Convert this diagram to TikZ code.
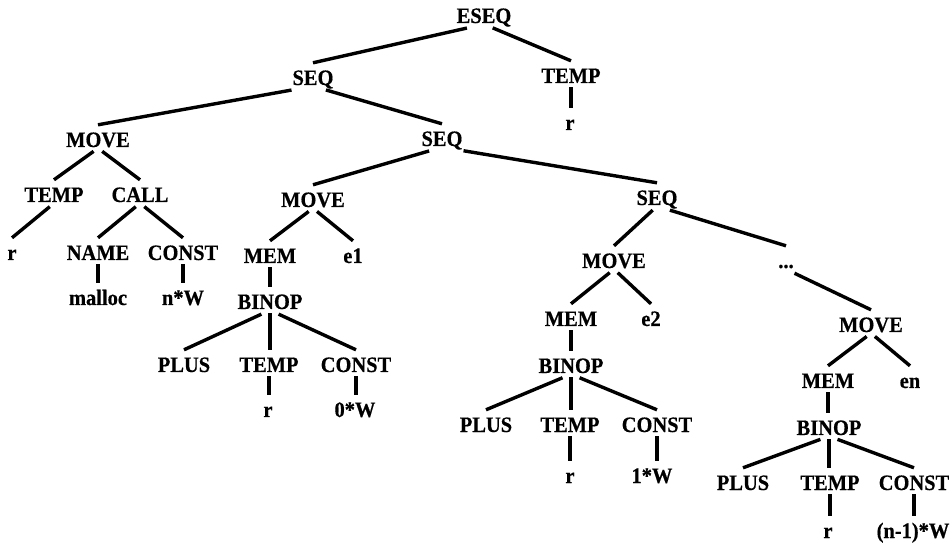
\documentclass[tikz,border=0pt]{standalone}
\usepackage{fontspec}
\setmainfont{Liberation Serif}[BoldFeatures={FakeStretch=0.93,FakeBold=0.5}]
\usetikzlibrary{calc}
\begin{document}
\begin{tikzpicture}[x=1pt,y=1pt,
  lbl/.style={font=\fontsize{22}{26}\selectfont\bfseries, anchor=base, inner sep=1pt, text height=15pt, text depth=0pt},
  edge/.style={line width=3.4pt, black}]
\useasboundingbox (0,0) rectangle (951,-545);
\newcommand\lk[2]{\draw[edge] ($(#1.south)!0.1!([yshift=6pt]#2.north)$) -- ([yshift=6pt]#2.north);}
\newcommand\vk[2]{\draw[edge] ([yshift=-3pt]#1.south) -- ([yshift=6pt]#1.south |- #2.north);}
% nodes
\node[lbl] (eseq) at (484,-23) {ESEQ};
\node[lbl] (seqA) at (313,-85) {SEQ};
\node[lbl] (tempA) at (571,-83) {TEMP};
\node[lbl] (rA) at (570,-130) {r};
\node[lbl] (moveA) at (98,-147) {MOVE};
\node[lbl] (seqB) at (442,-146) {SEQ};
\node[lbl] (tempB) at (54,-202) {TEMP};
\node[lbl] (call) at (140,-202) {CALL};
\node[lbl] (rB) at (12,-260) {r};
\node[lbl] (name) at (98,-260) {NAME};
\node[lbl] (constA) at (183,-260) {CONST};
\node[lbl] (malloc) at (98,-305) {malloc};
\node[lbl] (nw) at (183,-305) {n*W};
\node[lbl] (moveB) at (313,-207) {MOVE};
\node[lbl] (memA) at (270,-263) {MEM};
\node[lbl] (eA) at (353,-263) {e1};
\node[lbl] (binopA) at (270,-309) {BINOP};
\node[lbl] (plusA) at (184,-372) {PLUS};
\node[lbl] (tempC) at (269,-372) {TEMP};
\node[lbl] (constB) at (356,-372) {CONST};
\node[lbl] (rC) at (268,-417) {r};
\node[lbl] (wA) at (355,-417) {0*W};
\node[lbl] (seqC) at (657,-205) {SEQ};
\node[lbl] (moveC) at (614,-268) {MOVE};
\node[lbl] (dots) at (786,-268) {...};
\node[lbl] (memB) at (571,-326) {MEM};
\node[lbl] (eB) at (651,-326) {e2};
\node[lbl] (binopB) at (571,-373) {BINOP};
\node[lbl] (plusB) at (486,-432) {PLUS};
\node[lbl] (tempD) at (570,-432) {TEMP};
\node[lbl] (constC) at (657,-432) {CONST};
\node[lbl] (rD) at (570,-483) {r};
\node[lbl] (wB) at (652,-483) {1*W};
\node[lbl] (moveD) at (871,-332) {MOVE};
\node[lbl] (memC) at (828,-388) {MEM};
\node[lbl] (en) at (910,-388) {en};
\node[lbl] (binopC) at (829,-435) {BINOP};
\node[lbl] (plusC) at (743,-490) {PLUS};
\node[lbl] (tempE) at (830,-490) {TEMP};
\node[lbl] (constD) at (914,-490) {CONST};
\node[lbl] (rE) at (828,-538) {r};
\node[lbl] (wC) at (913,-538) {(n-1)*W};
% edges
\lk{eseq}{seqA}
\lk{eseq}{tempA}
\vk{tempA}{rA}
\lk{seqA}{moveA}
\lk{seqA}{seqB}
\lk{moveA}{tempB}
\lk{moveA}{call}
\lk{tempB}{rB}
\lk{call}{name}
\lk{call}{constA}
\vk{name}{malloc}
\vk{constA}{nw}
\lk{seqB}{moveB}
\lk{seqB}{seqC}
\lk{moveB}{memA}
\lk{moveB}{eA}
\vk{memA}{binopA}
\lk{binopA}{plusA}
\vk{binopA}{tempC}
\lk{binopA}{constB}
\vk{tempC}{rC}
\vk{constB}{wA}
\lk{seqC}{moveC}
\lk{seqC}{dots}
\lk{moveC}{memB}
\lk{moveC}{eB}
\vk{memB}{binopB}
\lk{binopB}{plusB}
\vk{binopB}{tempD}
\lk{binopB}{constC}
\vk{tempD}{rD}
\vk{constC}{wB}
\lk{dots}{moveD}
\lk{moveD}{memC}
\lk{moveD}{en}
\vk{memC}{binopC}
\lk{binopC}{plusC}
\vk{binopC}{tempE}
\lk{binopC}{constD}
\vk{tempE}{rE}
\vk{constD}{wC}
\end{tikzpicture}
\end{document}
